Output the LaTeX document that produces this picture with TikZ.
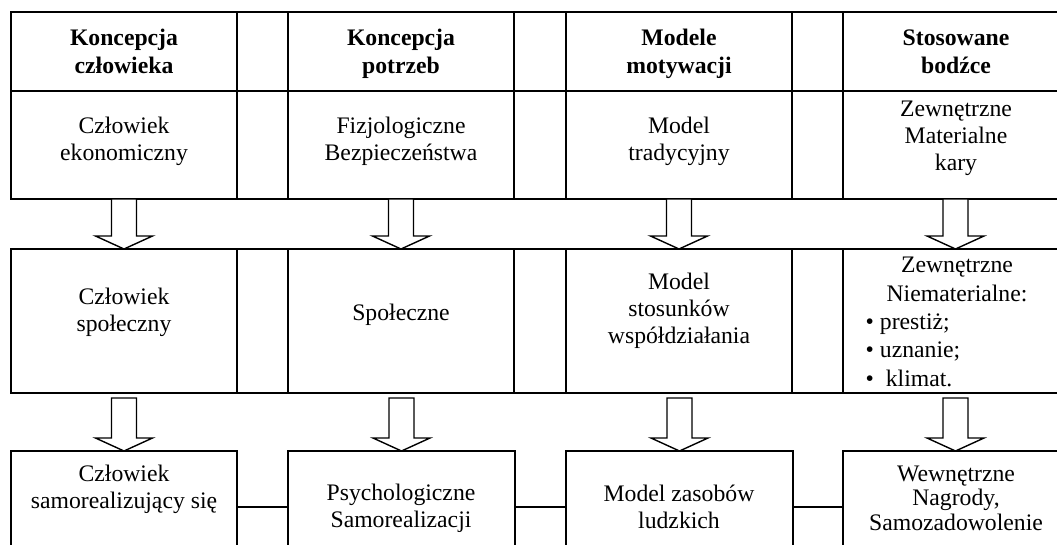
\documentclass[tikz,border=0pt]{standalone}
\usepackage{fontspec}
\setmainfont{Liberation Serif}
\usetikzlibrary{calc}
\tikzset{
  cellbox/.style={draw, line width=1.4pt, inner sep=0pt, outer sep=0pt},
  txt/.style={align=center, font=\fontsize{23.7}{27}\selectfont, inner sep=0pt},
  hdr/.style={align=center, font=\fontsize{23.7}{28}\selectfont\bfseries, inner sep=0pt},
  lst/.style={align=left, font=\fontsize{23.7}{28.5}\selectfont, inner sep=0pt},
  tight/.style={align=center, font=\fontsize{23.7}{24.5}\selectfont, inner sep=0pt},
  barrow/.style={draw, line width=1.4pt, fill=white, line join=miter},
  link/.style={draw, line width=1.4pt}
}
\newcommand\cellnode[5]{\node[cellbox, minimum width={#4-#2}, minimum height={#5-#3}] (#1) at ({(#2+#4)/2},{(#3+#5)/2}) {};}
\newcommand\blockarrow[2]{\path[barrow] let \p1=(#1), \p2=(#2) in
  (\x2-12.5pt,\y1) -- (\x2-12.5pt,\y2+13pt) -- (\x2-28.5pt,\y2+13pt) -- (\x2,\y2)
  -- (\x2+28.5pt,\y2+13pt) -- (\x2+12.5pt,\y2+13pt) -- (\x2+12.5pt,\y1) -- cycle;}
\begin{document}
\begin{tikzpicture}[x=1pt,y=-1pt]
\useasboundingbox (0,0) rectangle (1057,544);
\clip (0,0) rectangle (1057,544);
% top table, header row
\cellnode{h1}{11}{12}{237}{91}
\cellnode{h2}{237}{12}{288}{91}
\cellnode{h3}{288}{12}{514}{91}
\cellnode{h4}{514}{12}{566}{91}
\cellnode{h5}{566}{12}{792}{91}
\cellnode{h6}{792}{12}{843}{91}
\cellnode{h7}{843}{12}{1068}{91}
% top table, second row
\cellnode{r1}{11}{91}{237}{199}
\cellnode{r2}{237}{91}{288}{199}
\cellnode{r3}{288}{91}{514}{199}
\cellnode{r4}{514}{91}{566}{199}
\cellnode{r5}{566}{91}{792}{199}
\cellnode{r6}{792}{91}{843}{199}
\cellnode{r7}{843}{91}{1068}{199}
% middle table
\cellnode{m1}{11}{249}{237}{393}
\cellnode{m2}{237}{249}{288}{393}
\cellnode{m3}{288}{249}{514}{393}
\cellnode{m4}{514}{249}{566}{393}
\cellnode{m5}{566}{249}{792}{393}
\cellnode{m6}{792}{249}{843}{393}
\cellnode{m7}{843}{249}{1068}{393}
% bottom boxes
\cellnode{b1}{11}{451}{237}{563}
\cellnode{b2}{288}{451}{515}{563}
\cellnode{b3}{566}{451}{793}{563}
\cellnode{b4}{843}{451}{1068}{563}
% texts
\node[hdr] (th1) at (124,51) {Koncepcja\\człowieka};
\node[hdr] (th3) at (401,53.5) {Koncepcja\\potrzeb};
\node[hdr] (th5) at (679,54) {Modele\\motywacji};
\node[hdr] (th7) at (956,51.5) {Stosowane\\bodźce};
\node[txt] (tr1) at (124,141) {Człowiek\\ekonomiczny};
\node[txt] (tr3) at (401,141) {Fizjologiczne\\Bezpieczeństwa};
\node[txt] (tr5) at (679,141) {Model\\tradycyjny};
\node[txt] (tr7) at (956,138) {Zewnętrzne\\Materialne\\kary};
\node[txt] (tm1) at (124,312) {Człowiek\\społeczny};
\node[txt] (tm3) at (401,315) {Społeczne};
\node[txt] (tm5) at (679,310.5) {Model\\stosunków\\współdziałania};
\node[lst, align=center] (tm7) at (957,279.5) {Zewnętrzne\\Niematerialne:};
\node[lst, anchor=west] (tm7l) at (865.5,350) {• prestiż;\\• uznanie;\\•\ \ klimat.};
\node[txt] (tb1) at (124,489) {Człowiek\\samorealizujący się};
\node[txt] (tb3) at (401,508) {Psychologiczne\\Samorealizacji};
\node[txt] (tb5) at (679,506.5) {Model zasobów\\ludzkich};
\node[tight] (tb7) at (956,498) {Wewnętrzne\\Nagrody,\\Samozadowolenie};
% connectors between bottom boxes
\draw[link] (b1.east) -- (b2.west);
\draw[link] (b2.east) -- (b3.west);
\draw[link] (b3.east) -- (b4.west);
% block arrows
\blockarrow{r1.south}{m1.north}
\blockarrow{r3.south}{m3.north}
\blockarrow{r5.south}{m5.north}
\blockarrow{r7.south}{m7.north}
\blockarrow{$(m1.south)+(0,5)$}{b1.north}
\blockarrow{$(m3.south)+(0,5)$}{b2.north}
\blockarrow{$(m5.south)+(0,5)$}{b3.north}
\blockarrow{$(m7.south)+(0,5)$}{b4.north}
\end{tikzpicture}
\end{document}
